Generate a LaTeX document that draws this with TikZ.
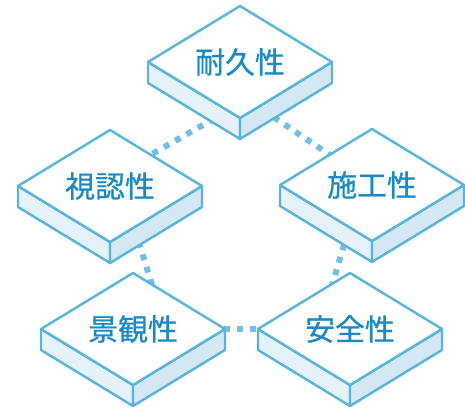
\documentclass[tikz,border=0pt]{standalone}
\usepackage{fontspec}
\newfontfamily\jp[FakeBold=0.7]{Noto Sans CJK JP}
\usetikzlibrary{calc}

\definecolor{borde}{HTML}{5AB4DC}
\definecolor{letra}{HTML}{1A8AC4}
\definecolor{ladoA}{HTML}{E6F2F9}
\definecolor{ladoB}{HTML}{D4E8F4}

% placa: nombre, x, y, texto
\newcommand{\placa}[4]{
\begin{scope}[shift={(#2,#3)}]
\draw[cara, fill=ladoA] (-1.84,0) -- (0,-1.12) -- (0,-1.54) -- (-1.84,-0.42) -- cycle;
\draw[cara, fill=ladoB] (0,-1.12) -- (1.84,0) -- (1.84,-0.42) -- (0,-1.54) -- cycle;
\draw[cara, fill=white] (0,1.12) -- (1.84,0) -- (0,-1.12) -- (-1.84,0) -- cycle;
\node[texto] (#1) at (0,0) {#4};
\end{scope}}

\begin{document}
\begin{tikzpicture}[
  cara/.style={draw=borde, line width=1.4pt, line join=round},
  texto/.style={text=letra, font=\jp\fontsize{17}{17}\selectfont},
  puntos/.style={draw=borde!85, line width=0.12cm, dash pattern=on 0.12cm off 0.14cm}]
\useasboundingbox (0,0) rectangle (9.3,8.26);

% centros
\coordinate (c1) at (4.80,7.02);
\coordinate (c2) at (2.20,4.54);
\coordinate (c3) at (7.44,4.56);
\coordinate (c4) at (2.66,1.68);
\coordinate (c5) at (7.00,1.68);

% lineas de puntos (debajo de las placas)
\draw[puntos] ($(c2)+(0.40,0.39)$) -- ($(c1)+(-0.16,-0.93)$);
\draw[puntos] ($(c1)+(0.46,-0.96)$) -- ($(c3)+(-0.44,0.33)$);
\draw[puntos] ($(c2)+(0.50,-0.87)$) -- ($(c4)+(0.48,0.55)$);
\draw[puntos] ($(c3)+(-0.41,-0.69)$) -- ($(c5)+(-0.44,0.60)$);
\draw[puntos] (c4) -- (c5);

\placa{taikyu}{4.80}{7.02}{耐久性}
\placa{shinin}{2.20}{4.54}{視認性}
\placa{seko}{7.44}{4.56}{施工性}
\placa{keikan}{2.66}{1.68}{景観性}
\placa{anzen}{7.00}{1.68}{安全性}
\end{tikzpicture}
\end{document}
